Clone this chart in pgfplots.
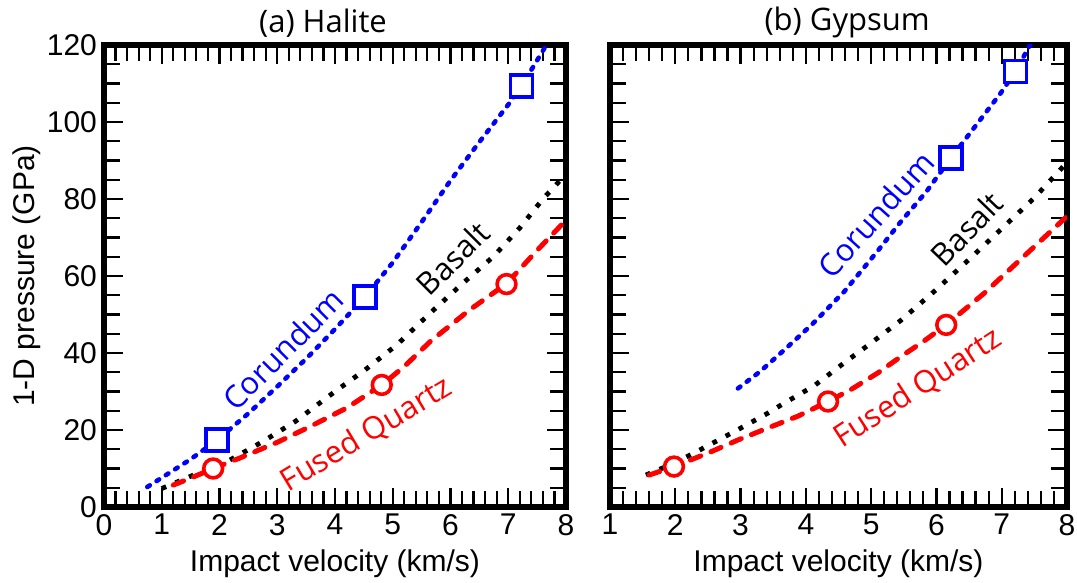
\documentclass[border=0pt]{standalone}
\usepackage{fontspec}
\setmainfont{Liberation Sans}
\newfontfamily\osans{Open Sans}
\usepackage{pgfplots}
\pgfplotsset{compat=1.18}
\usepackage{pgfplotstable}

% (a) Halite
\pgfplotstableread{
x y
0.75 5.2
1.0 7.6
1.5 12.4
1.96 17.4
2.5 24.3
3.0 31.3
3.5 38.5
4.0 46.2
4.52 54.6
5.0 63.5
5.5 74.0
6.0 84.8
6.5 94.8
7.0 104.5
7.23 109.4
7.5 116.0
7.7 121.0
}\HCor
\pgfplotstableread{
x y
1.96 17.4
4.52 54.6
7.23 109.4
}\HCorM
\pgfplotstableread{
x y
1.0 4.8
1.63 8.8
2.18 12.2
2.75 17.0
3.31 22.2
4.0 30.0
4.52 35.6
5.07 42.1
5.65 50.4
6.22 58.2
6.74 65.0
7.2 72.5
7.6 80.0
8.0 86.5
}\HBas
\pgfplotstableread{
x y
1.2 5.7
1.5 7.5
1.89 10.0
2.35 12.7
3.0 16.8
3.57 20.9
4.2 25.7
4.81 31.7
5.2 36.5
5.65 43.0
6.34 51.3
6.97 58.0
7.49 66.5
8.0 74.5
}\HFQ
\pgfplotstableread{
x y
1.89 10.0
4.81 31.7
6.97 57.9
}\HFQM

% (b) Gypsum
\pgfplotstableread{
x y
2.96 30.8
3.3 35.2
3.67 40.8
4.1 47.5
4.59 56.0
5.1 66.5
5.45 74.0
5.85 82.0
6.22 90.6
6.6 99.0
6.98 107.4
7.21 113.1
7.45 120.5
}\GCor
\pgfplotstableread{
x y
6.22 90.6
7.21 113.1
}\GCorM
\pgfplotstableread{
x y
1.55 8.3
2.0 11.5
2.33 14.4
2.95 20.0
3.41 24.3
3.66 26.9
4.12 31.4
4.6 37.6
5.0 42.6
5.45 48.4
6.0 56.5
6.5 64.3
7.0 72.3
7.5 80.3
8.0 89.5
}\GBas
\pgfplotstableread{
x y
1.6 8.3
1.98 10.5
2.5 14.0
2.96 17.4
3.4 20.4
3.88 23.6
4.34 27.4
4.69 30.5
5.1 34.8
5.45 39.0
5.8 43.0
6.15 47.3
6.73 55.5
7.39 65.9
8.0 75.5
}\GFQ
\pgfplotstableread{
x y
1.98 10.5
4.34 27.4
6.15 47.3
}\GFQM

\pgfplotsset{
  every axis title shift=0pt,
  panel/.style={
    scale only axis, height=231pt,
    ymin=0, ymax=120, xmax=8,
    ytick={0,20,...,120}, minor y tick num=3,
    xtick={0,...,8}, minor x tick num=4,
    tick align=inside, tick pos=both,
    major tick length=9.5pt, minor tick length=8pt,
    every tick/.style={black, line width=1.1pt},
    axis line style={line width=3pt, line join=miter},
    tick label style={font=\fontsize{15}{18}\selectfont},
    /pgf/number format/assume math mode=true,
    label style={font=\fontsize{15}{18}\selectfont},
    xlabel style={at={(axis description cs:0.5,-0.122)}, anchor=center},
    xlabel={Impact velocity (km/s)},
  },
  cor/.style={blue, line width=2.3pt, line cap=round, dash pattern=on 1.5pt off 4pt},
  bas/.style={black, line width=2.4pt, dash pattern=on 2.4pt off 5pt},
  fq/.style={red, line width=2.5pt, line cap=round, dash pattern=on 5.5pt off 5.5pt},
  corm/.style={only marks, mark=square*, mark size=5.5pt, mark options={draw=blue, fill=white, line width=1.9pt, solid}},
  fqm/.style={only marks, mark=*, mark size=4.7pt, mark options={draw=red, fill=white, line width=1.8pt, solid}},
}
\tikzset{lab/.style={font=\osans\fontsize{15.5}{18}\selectfont, inner sep=0pt}}

\begin{document}
\begin{tikzpicture}
\begin{axis}[panel, name=L, width=231pt, xmin=0,
  ylabel={1-D pressure (GPa)},
  ylabel style={at={(axis description cs:-0.168,0.5)}, anchor=center, rotate=0},
  title={(a) Halite},
  title style={font=\osans\fontsize{15.5}{18}\selectfont, at={(axis description cs:0.474,1.048)}, anchor=center},
]
\addplot[cor] table {\HCor};
\addplot[bas] table {\HBas};
\addplot[fq] table {\HFQ};
\addplot[corm] table {\HCorM};
\addplot[fqm] table {\HFQM};
\node[lab, text=blue, rotate=45] at (axis cs:3.1,41.0) {Corundum};
\node[lab, text=black, rotate=45] at (axis cs:6.04,64.6) {Basalt};
\node[lab, text=red, rotate=31] at (axis cs:4.55,18.8) {Fused Quartz};
\end{axis}
\begin{axis}[panel, at={(253pt,0)}, anchor=south west, width=228.5pt, xmin=1,
  yticklabels={},
  title={(b) Gypsum},
  title style={font=\osans\fontsize{15.5}{18}\selectfont, at={(axis description cs:0.519,1.048)}, anchor=center},
]
\addplot[cor] table {\GCor};
\addplot[bas] table {\GBas};
\addplot[fq] table {\GFQ};
\addplot[corm] table {\GCorM};
\addplot[fqm] table {\GFQM};
\node[lab, text=blue, rotate=48] at (axis cs:5.07,76.0) {Corundum};
\node[lab, text=black, rotate=46] at (axis cs:6.46,72.2) {Basalt};
\node[lab, text=red, rotate=33] at (axis cs:5.72,30.8) {Fused Quartz};
\end{axis}
\pgfresetboundingbox
\path[use as bounding box] (-52pt,-38pt) rectangle (486.5pt,253.5pt);
\end{tikzpicture}
\end{document}
